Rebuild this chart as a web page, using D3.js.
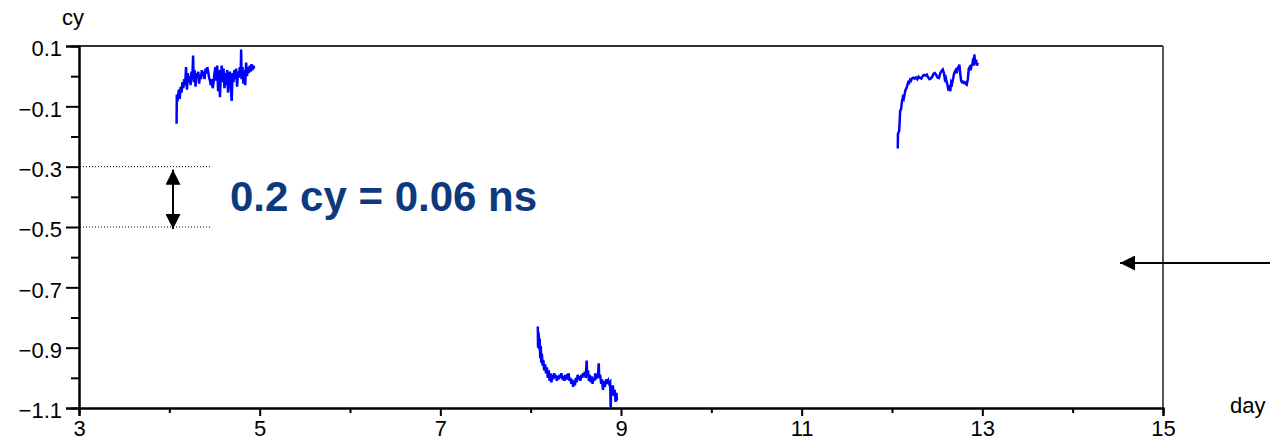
<!DOCTYPE html>
<html>
<head>
<meta charset="utf-8">
<script src="https://cdn.jsdelivr.net/npm/d3@7/dist/d3.min.js"></script>
<style>
  html, body { margin: 0; padding: 0; background: #fff; }
  svg { display: block; }
  text { font-family: "Liberation Sans", Arial, sans-serif; }
</style>
</head>
<body>
<svg id="chart" width="1270" height="440"></svg>
<script>
// ---- data ----
const xMajorTicks = [3, 5, 7, 9, 11, 13, 15];
const xMinorTicks = [4, 6, 8, 10, 12, 14];
const yMajorTicks = [0.1, -0.1, -0.3, -0.5, -0.7, -0.9, -1.1];
const yMinorTicks = [0.0, -0.2, -0.4, -0.6, -0.8, -1.0];
const xLabel = "day";
const yLabel = "cy";
const noteText = "0.2 cy = 0.06 ns";
const noteRange = [-0.3, -0.5];

const days1 = [4.080,4.083,4.095,4.105,4.115,4.125,4.135,4.145,4.155,4.165,4.175,4.185,4.195,4.205,4.215,4.225,4.235,4.245,4.255,4.263,4.270,4.280,4.290,4.300,4.310,4.320,4.330,4.340,4.350,4.360,4.370,4.380,4.390,4.400,4.410,4.420,4.430,4.440,4.450,4.460,4.470,4.480,4.490,4.500,4.510,4.520,4.530,4.540,4.550,4.560,4.570,4.580,4.590,4.600,4.610,4.620,4.630,4.640,4.650,4.660,4.670,4.680,4.690,4.700,4.710,4.720,4.730,4.740,4.750,4.760,4.770,4.780,4.790,4.795,4.800,4.810,4.820,4.830,4.840,4.850,4.860,4.870,4.880,4.890,4.900,4.910,4.920,4.930,4.940];
const vals1 = [-0.158,-0.062,-0.070,-0.045,-0.075,-0.035,-0.055,-0.020,-0.040,-0.010,-0.030,0.030,-0.045,0.010,-0.020,0.000,-0.030,0.015,-0.010,0.068,-0.020,0.020,-0.035,0.010,-0.005,0.015,-0.025,0.005,-0.010,0.020,0.000,0.015,-0.010,0.025,0.010,0.030,0.015,-0.005,-0.015,-0.030,-0.010,-0.040,-0.020,0.010,0.030,-0.015,0.035,-0.050,0.020,-0.070,0.000,0.035,-0.020,0.025,-0.040,0.010,-0.030,0.020,-0.055,-0.010,0.015,-0.030,-0.082,0.010,-0.020,0.020,-0.010,0.025,-0.035,0.015,-0.005,0.030,0.000,0.088,-0.010,0.030,-0.025,0.020,-0.030,0.045,0.000,0.030,0.010,0.035,0.015,0.040,0.020,0.035,0.025];

const days2 = [8.079,8.082,8.088,8.094,8.100,8.106,8.112,8.118,8.124,8.132,8.140,8.150,8.160,8.170,8.180,8.190,8.200,8.210,8.220,8.230,8.240,8.250,8.260,8.270,8.280,8.290,8.300,8.310,8.320,8.330,8.340,8.350,8.360,8.370,8.380,8.390,8.400,8.410,8.420,8.430,8.440,8.450,8.460,8.470,8.480,8.490,8.500,8.510,8.520,8.530,8.540,8.550,8.560,8.570,8.580,8.590,8.600,8.610,8.620,8.625,8.635,8.645,8.655,8.665,8.675,8.685,8.695,8.705,8.715,8.725,8.735,8.745,8.753,8.760,8.770,8.780,8.790,8.800,8.810,8.820,8.830,8.840,8.850,8.860,8.870,8.880,8.886,8.892,8.900,8.910,8.920,8.930,8.940,8.950,8.955];
const vals2 = [-0.830,-0.900,-0.850,-0.905,-0.870,-0.935,-0.895,-0.950,-0.920,-0.960,-0.940,-0.975,-0.955,-0.985,-0.965,-1.000,-0.975,-1.010,-0.985,-1.015,-0.990,-1.005,-0.985,-1.000,-0.990,-1.010,-0.995,-1.005,-0.990,-1.000,-0.985,-1.005,-0.995,-1.010,-0.990,-1.000,-0.995,-1.005,-0.985,-1.010,-1.000,-1.020,-1.005,-1.030,-1.010,-1.025,-1.000,-1.015,-0.990,-1.005,-0.995,-1.010,-0.990,-1.000,-0.985,-0.995,-0.980,-1.000,-0.943,-0.995,-0.975,-1.010,-0.990,-1.015,-0.995,-1.020,-1.000,-1.010,-0.985,-1.005,-0.990,-1.000,-0.952,-1.000,-0.990,-1.020,-1.005,-1.040,-1.010,-1.030,-1.015,-1.005,-1.020,-1.010,-1.020,-1.015,-1.099,-1.030,-1.045,-1.025,-1.060,-1.040,-1.080,-1.050,-1.075];

const days3 = [12.064,12.066,12.075,12.080,12.085,12.090,12.100,12.110,12.120,12.130,12.140,12.150,12.160,12.170,12.180,12.190,12.200,12.210,12.220,12.235,12.250,12.265,12.280,12.295,12.310,12.325,12.340,12.355,12.370,12.385,12.400,12.415,12.430,12.445,12.460,12.475,12.490,12.505,12.520,12.535,12.550,12.562,12.575,12.585,12.595,12.605,12.615,12.625,12.635,12.645,12.655,12.665,12.675,12.685,12.695,12.705,12.715,12.725,12.735,12.746,12.755,12.765,12.775,12.785,12.795,12.805,12.815,12.827,12.840,12.850,12.860,12.870,12.880,12.890,12.900,12.905,12.912,12.920,12.930,12.940,12.950];
const vals3 = [-0.240,-0.190,-0.185,-0.180,-0.150,-0.115,-0.110,-0.085,-0.070,-0.075,-0.060,-0.045,-0.040,-0.030,-0.020,-0.022,-0.012,-0.015,-0.008,-0.005,-0.008,-0.004,-0.010,-0.002,-0.006,-0.008,0.000,0.004,0.002,0.005,-0.004,-0.010,-0.008,-0.002,0.008,0.010,0.004,-0.005,-0.006,0.010,0.018,0.022,0.010,-0.010,-0.005,-0.020,-0.030,-0.048,-0.030,-0.050,-0.020,-0.025,-0.010,0.005,0.015,0.020,0.010,0.025,0.030,0.038,0.010,-0.015,-0.020,-0.018,-0.022,-0.020,-0.025,-0.028,-0.010,0.025,0.030,0.020,0.035,0.040,0.060,0.035,0.072,0.040,0.055,0.035,0.045];

// ---- chart ----
const svg = d3.select("#chart");
const x = d3.scaleLinear().domain([3, 15]).range([79, 1163]);
const y = d3.scaleLinear().domain([-1.1, 0.1]).range([408, 46]);
const fmt = v => d3.format(".1f")(v).replace("-", "\u2212");

// frame (top & right)
svg.append("line").attr("x1", x(3)).attr("x2", x(15)).attr("y1", y(0.1)).attr("y2", y(0.1))
  .attr("stroke", "#333").attr("stroke-width", 2);
svg.append("line").attr("x1", x(15)).attr("x2", x(15)).attr("y1", y(0.1)).attr("y2", y(-1.1))
  .attr("stroke", "#555").attr("stroke-width", 2);

// y axis
const gy = svg.append("g").attr("transform", `translate(${x(3)},0)`);
gy.call(d3.axisLeft(y).tickValues(yMajorTicks).tickSize(13).tickPadding(4).tickFormat(fmt));
const gyMinor = svg.append("g").attr("transform", `translate(${x(3)},0)`);
gyMinor.call(d3.axisLeft(y).tickValues(yMinorTicks).tickSize(8).tickFormat(""));
[gy, gyMinor].forEach(g => {
  g.select(".domain").attr("stroke", "#000").attr("stroke-width", 2);
  g.selectAll(".tick line").attr("stroke", "#000").attr("stroke-width", 2);
});
gy.selectAll(".tick text").attr("font-size", 22).attr("fill", "#000").attr("dy", "0.45em")
  .style("font-family", "'Liberation Sans', Arial, sans-serif");

// x axis
const gx = svg.append("g").attr("transform", `translate(0,${y(-1.1)})`);
gx.call(d3.axisBottom(x).tickValues(xMajorTicks).tickSize(8).tickPadding(4).tickFormat(d3.format("d")));
const gxMinor = svg.append("g").attr("transform", `translate(0,${y(-1.1)})`);
gxMinor.call(d3.axisBottom(x).tickValues(xMinorTicks).tickSize(5).tickFormat(""));
[gx, gxMinor].forEach(g => {
  g.select(".domain").attr("stroke", "#000").attr("stroke-width", 2);
  g.selectAll(".tick line").attr("stroke", "#000").attr("stroke-width", 2);
});
gx.selectAll(".tick text").attr("font-size", 22).attr("fill", "#000")
  .style("font-family", "'Liberation Sans', Arial, sans-serif");

// axis titles
svg.append("text").attr("x", 62).attr("y", 25).attr("font-size", 22).attr("fill", "#000").text(yLabel);
svg.append("text").attr("x", 1230).attr("y", 413).attr("font-size", 22).attr("fill", "#000").text(xLabel);

// data lines
const line = d3.line().x(d => x(d[0])).y(d => y(d[1]));
[[days1, vals1], [days2, vals2], [days3, vals3]].forEach(([ds, vs]) => {
  svg.append("path").datum(ds.map((d, i) => [d, vs[i]]))
    .attr("d", line).attr("fill", "none").attr("stroke", "#0000ff")
    .attr("stroke-width", 2.5).attr("stroke-linejoin", "miter");
});

// annotation: dotted guides
noteRange.forEach(v => {
  svg.append("line").attr("x1", x(3) + 1).attr("x2", 210).attr("y1", y(v)).attr("y2", y(v))
    .attr("stroke", "#000").attr("stroke-width", 1).attr("stroke-dasharray", "1,2");
});

// markers
const defs = svg.append("defs");
defs.append("marker").attr("id", "ah").attr("viewBox", "0 0 10 10")
  .attr("refX", 10).attr("refY", 5).attr("markerWidth", 15).attr("markerHeight", 15)
  .attr("markerUnits", "userSpaceOnUse").attr("orient", "auto-start-reverse")
  .append("path").attr("d", "M0,0 L10,5 L0,10 Z").attr("fill", "#000");

// double arrow
svg.append("line").attr("x1", 173).attr("x2", 173).attr("y1", y(-0.3) + 3).attr("y2", y(-0.5) + 2)
  .attr("stroke", "#000").attr("stroke-width", 2)
  .attr("marker-start", "url(#ah)").attr("marker-end", "url(#ah)");

svg.append("text").attr("x", 230).attr("y", 211).attr("font-size", 42).attr("font-weight", "bold")
  .attr("fill", "#0b3a7e").text(noteText);

// right arrow
svg.append("line").attr("x1", 1270).attr("x2", 1120).attr("y1", 263).attr("y2", 263)
  .attr("stroke", "#000").attr("stroke-width", 2).attr("marker-end", "url(#ah)");
</script>
</body>
</html>
